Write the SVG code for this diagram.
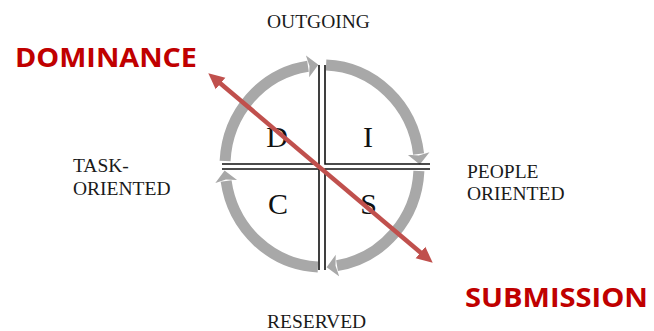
<svg xmlns="http://www.w3.org/2000/svg" width="654" height="331" viewBox="0 0 654 331">
<style>
.lbl{font-family:"Liberation Serif","Times New Roman",serif;font-size:19.5px;fill:#1a1a1a}
.big{font-family:"Liberation Serif","Times New Roman",serif;font-size:30px;fill:#111;text-anchor:middle}
.red{font-family:"Open Sans","Liberation Sans",sans-serif;font-weight:bold;font-size:27px;fill:#c00000}
.ring{fill:none;stroke:#a8a8a8;stroke-width:11;marker-end:url(#gh)}
.div{stroke:#111;stroke-width:1.6;fill:none}
</style>
<defs>
<marker id="gh" markerUnits="userSpaceOnUse" markerWidth="14" markerHeight="24" refX="0.5" refY="12" orient="auto">
<path d="M0,1 L11,12 L0,23 L2,12 z" fill="#a8a8a8"/>
</marker>
<marker id="rh" markerUnits="userSpaceOnUse" markerWidth="18" markerHeight="18" refX="2" refY="9" orient="auto-start-reverse">
<path d="M0,1.5 L16,9 L0,16.5 z" fill="#c0504d"/>
</marker>
</defs>
<rect width="654" height="331" fill="#ffffff"/>
<g id="ring">
<path class="ring" d="M225.1,161.1 A97,101 0 0 1 308,66.2"/>
<path class="ring" d="M326.1,65.1 A97,101 0 0 1 418.6,154"/>
<path class="ring" d="M418.9,170.9 A97,101 0 0 1 337,265.6"/>
<path class="ring" d="M317.9,266.9 A97,101 0 0 1 226.1,181"/>
</g>
<g id="quadrant-D">
<path class="div" d="M319,65 V164 H222"/>
<text class="big" x="277" y="147">D</text>
</g>
<g id="quadrant-I">
<path class="div" d="M325,65 V164 H430"/>
<text class="big" x="368" y="147">I</text>
</g>
<g id="quadrant-C">
<path class="div" d="M222,169 H319 V270"/>
<text class="big" x="278" y="214">C</text>
</g>
<g id="quadrant-S">
<path class="div" d="M430,169 H325 V270"/>
<text class="big" x="368.5" y="214">S</text>
</g>
<g id="connectors">
<line x1="219" y1="82.3" x2="422" y2="253.7" stroke="#c0504d" stroke-width="4.5" marker-start="url(#rh)" marker-end="url(#rh)"/>
</g>
<g id="label-outgoing"><text class="lbl" x="267" y="28">OUTGOING</text></g>
<g id="label-reserved"><text class="lbl" x="267" y="328">RESERVED</text></g>
<g id="label-task"><text class="lbl" x="73" y="172">TASK-</text><text class="lbl" x="73" y="195">ORIENTED</text></g>
<g id="label-people"><text class="lbl" x="467" y="178">PEOPLE</text><text class="lbl" x="467" y="200">ORIENTED</text></g>
<g id="label-dominance"><text class="red" x="15" y="67" textLength="182" lengthAdjust="spacingAndGlyphs">DOMINANCE</text></g>
<g id="label-submission"><text class="red" x="465" y="307" textLength="183" lengthAdjust="spacingAndGlyphs">SUBMISSION</text></g>
</svg>
